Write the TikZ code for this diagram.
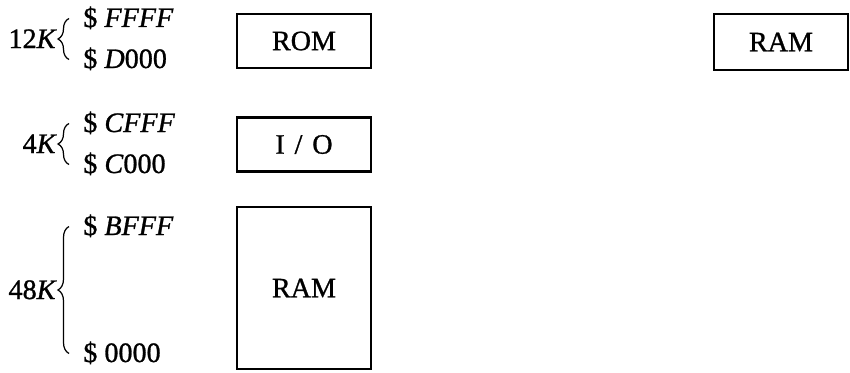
\documentclass[tikz,border=0pt]{standalone}
\usepackage{fontspec}
\setmainfont{Liberation Serif}[FakeBold=1]
\usetikzlibrary{decorations.pathreplacing, calc}
\tikzset{>=latex}
\tikzstyle{block} = [draw, line width=1.4pt, minimum width=2.68cm, minimum height=1.08cm, inner sep=0pt]
\tikzstyle{addrbrace} = [decorate, decoration={brace, amplitude=0.22cm}, line width=0.7pt]
\tikzstyle{addr} = [inner sep=0pt]
\newcommand{\memrange}[6]{
\coordinate (#1-lo) at (1.38,#3+0.17);
\coordinate (#1-hi) at (1.38,#2+0.17);
\draw[addrbrace] (#1-lo) -- (#1-hi);
\node[addr, anchor=base west] (#1-top) at (1.66,#2) {#5};
\node[addr, anchor=base west] (#1-bot) at (1.66,#3) {#6};
\node[addr, anchor=base east] (#1-size) at ($(#1-lo)!0.5!(#1-hi)+(-0.24,-0.18)$) {#4};
}

\begin{document}
\begin{tikzpicture}[font=\fontsize{16}{19}\selectfont]
		\useasboundingbox (0,0) rectangle (17,7.44);
		
		% Address ranges
		\memrange{rom}{6.90}{6.08}{12\textit{K}}{\$ \textit{FFFF}}{\$ \textit{D}000}
		\memrange{io}{4.80}{3.98}{4\textit{K}}{\$ \textit{CFFF}}{\$ \textit{C}000}
		\memrange{ram}{2.74}{0.20}{48\textit{K}}{\$ \textit{BFFF}}{\$ 0000}
		
		% Memory blocks
		\node[block] (rom) at (6.08,6.62) {ROM};
		\node[block] (io) at (6.08,4.55) {I\hspace{0.35em}/\hspace{0.35em}O};
		\node[block, minimum height=3.24cm] (ram) at (6.08,1.68) {RAM};
		
		% Extra RAM
		\node[block, minimum height=1.12cm] (ramx) at (15.62,6.60) {RAM};
	\end{tikzpicture}
\end{document}
